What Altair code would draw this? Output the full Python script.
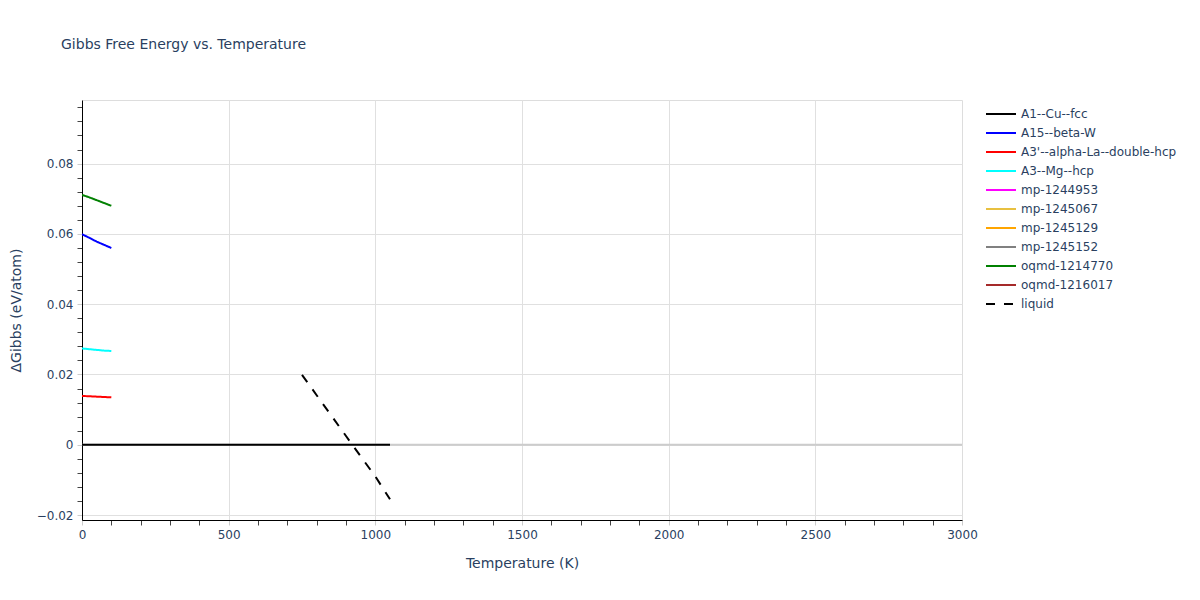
import altair as alt
import pandas as pd

phases = ["A1--Cu--fcc", "A15--beta-W", "A3'--alpha-La--double-hcp", "A3--Mg--hcp",
          "mp-1244953", "mp-1245067", "mp-1245129", "mp-1245152",
          "oqmd-1214770", "oqmd-1216017", "liquid"]
colors = ["#000000", "#0000ff", "#ff0000", "#00ffff", "#ff00ff", "#e8c040",
          "#ffa500", "#808080", "#008000", "#a52a2a", "#000000"]
dashes = [[1, 0]] * 10 + [[9, 9]]

T_fcc = [0, 1050]
g_fcc = [0.0, 0.0]

T_solid = [0, 25, 50, 75, 100]
g_A15 = [0.0599, 0.0589, 0.0578, 0.0569, 0.0560]
g_A3p = [0.0139, 0.0138, 0.0137, 0.0136, 0.0135]
g_A3 = [0.0274, 0.0272, 0.0270, 0.0268, 0.0267]
g_oqmd1214770 = [0.0711, 0.0704, 0.0696, 0.0688, 0.0680]

T_liq = [750, 800, 850, 900, 950, 1000, 1050]
g_liq = [0.0199, 0.0141, 0.0083, 0.0025, -0.0033, -0.0090, -0.0155]

rows = []
def add(name, ts, gs):
    for t, g in zip(ts, gs):
        rows.append({"phase": name, "T": t, "G": g})

add("A1--Cu--fcc", T_fcc, g_fcc)
add("A15--beta-W", T_solid, g_A15)
add("A3'--alpha-La--double-hcp", T_solid, g_A3p)
add("A3--Mg--hcp", T_solid, g_A3)
add("oqmd-1214770", T_solid, g_oqmd1214770)
add("liquid", T_liq, g_liq)
df = pd.DataFrame(rows)

FONT = "DejaVu Sans"
TXT = "#2a3f5f"
GRID = "#e0e0e0"

x_major = "datum.value % 500 === 0"
x_grid = "datum.value % 500 === 0 && datum.value > 0 && datum.value < 3000"
y_major = "abs(datum.value * 50 - round(datum.value * 50)) < 1e-6"

x_vals = list(range(0, 3001, 100))
y_vals = [round(-0.02 + 0.004 * i, 3) for i in range(30)]

xaxis = alt.Axis(
    values=x_vals, title="Temperature (K)",
    labelExpr=f"{x_major} ? datum.label : ''", format="d",
    labelOverlap=False, labelFlush=False, labelBound=False,
    gridOpacity={"condition": {"test": x_grid, "value": 1}, "value": 0},
    gridColor=GRID,
    tickColor={"condition": {"test": x_major, "value": "#cccccc"}, "value": "#444444"},
    tickSize=5, domainColor="#000000", domainWidth=1,
    labelFont=FONT, labelFontSize=12, labelColor=TXT, labelPadding=4,
    titleFont=FONT, titleFontSize=14, titleColor=TXT, titleFontWeight="normal",
    titlePadding=16,
)
yaxis = alt.Axis(
    values=y_vals, title="ΔGibbs (eV/atom)",
    labelExpr=f"{y_major} ? datum.label : ''", format=".2~f",
    labelOverlap=False, labelFlush=False, labelBound=False,
    gridOpacity={"condition": {"test": y_major, "value": 1}, "value": 0},
    gridColor=GRID,
    tickColor={"condition": {"test": y_major, "value": "#cccccc"}, "value": "#444444"},
    tickSize=5, domainColor="#000000", domainWidth=1,
    labelFont=FONT, labelFontSize=12, labelColor=TXT, labelPadding=4,
    titleFont=FONT, titleFontSize=14, titleColor=TXT, titleFontWeight="normal",
    titlePadding=13,
)

xscale = alt.Scale(domain=[0, 3000], nice=False, zero=False)
yscale = alt.Scale(domain=[-0.0214, 0.0981], nice=False, zero=False)

leg = alt.Legend(
    title=None, orient="none", legendX=908, legendY=3,
    symbolType="M-1.5,0H1.5", symbolSize=400, symbolStrokeWidth=2,
    labelFont=FONT, labelFontSize=12, labelColor=TXT, labelLimit=400,
    labelOffset=9, rowPadding=2,
)

zero = alt.Chart(pd.DataFrame({"G": [0.0]})).mark_rule(
    color="#cccccc", strokeWidth=2
).encode(y=alt.Y("G:Q", scale=yscale, axis=yaxis))

lines = alt.Chart(df).mark_line(strokeWidth=2, clip=True).encode(
    x=alt.X("T:Q", scale=xscale, axis=xaxis),
    y=alt.Y("G:Q", scale=yscale, axis=yaxis),
    color=alt.Color("phase:N", scale=alt.Scale(domain=phases, range=colors), legend=leg),
    strokeDash=alt.StrokeDash("phase:N", scale=alt.Scale(domain=phases, range=dashes), legend=leg),
)

chart = alt.layer(zero, lines).properties(
    width=880, height=420,
    autosize=alt.AutoSizeParams(type="none"),
    padding={"left": 74, "top": 92, "right": 230, "bottom": 72},
    title=alt.Title(
        "Gibbs Free Energy vs. Temperature", anchor="start", frame="group",
        dx=-21, offset=48, font=FONT, fontSize=14, color=TXT, fontWeight="normal",
    ),
).configure_view(stroke=None).configure(background="white")

chart.save("out.html", embed_options={"renderer": "svg", "actions": False})
